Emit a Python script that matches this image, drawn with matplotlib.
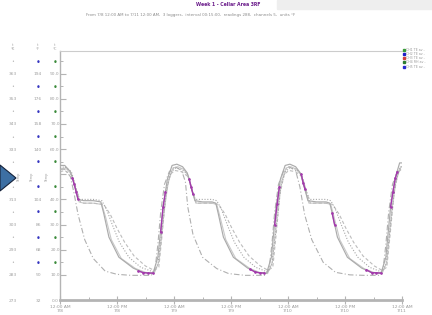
import numpy as np
import matplotlib
matplotlib.use("Agg")
import matplotlib.pyplot as plt
from matplotlib.lines import Line2D
from matplotlib.patches import Polygon, Rectangle

nan = np.nan

# hours from start, values on the primary (right-hand) scale
a_t = [0, 1, 2.2, 3, 3.8, 5, 7, 8.6, 9.2, 10.3, 12.4, 15.4, 17.5, 19.6,
       20.6, 21.7, 22.6, 23.6, 24.6, 25.8, 26.8, 27.6, 28.4, 30, 32, 32.8, 33.3, 34.4, 36.5, 39.5, 41.6, 43.5,
       44.5, 45.5, 46.4, 47.4, 48.4, 49.6, 50.6, 51.4, 52.2, 54, 56, 56.8, 57.3, 58.4, 60.5, 63.5, 65.6, 67.6,
       68.6, 69.6, 70.5, 71.5, 72]
a_y = [53.5, 53.5, 51, 46, 40, 39.5, 39.5, 39, 34.5, 25, 17, 12.7, 10.9, 10.7,
       17, 37, 48, 53.5, 54, 53, 50.5, 45, 39.5, 39, 39, 38.5, 34.5, 25, 17, 12.7, 10.9, 10.7,
       17, 37, 48, 53.5, 54, 53, 50.5, 45, 39.5, 39, 39, 38.5, 34.5, 25, 17, 12.7, 10.9, 10.7,
       17, 37, 48, 54.5, 54.5]

a2_t = [0, 1.2, 2.4, 3.2, 4, 5, 7, 8.8, 9.6, 10.8, 12.9, 15.9, 18, 19.8,
        20.8, 21.9, 22.8, 23.8, 24.8, 26, 27, 27.8, 28.6, 30, 32, 33, 33.7, 34.9, 37, 40, 42, 43.7,
        44.7, 45.7, 46.6, 47.6, 48.6, 49.8, 50.8, 51.6, 52.4, 54, 56, 57, 57.7, 58.9, 61, 64, 66, 67.8,
        68.8, 69.8, 70.7, 71.7, 72]
a2_y = [52, 52.5, 50, 45, 39, 38.5, 38.5, 38, 33, 24, 16.5, 12.5, 11, 10.5,
        15, 35, 47, 52.5, 53, 52, 49.5, 44, 38.5, 38.5, 38.5, 38, 33, 24, 16.5, 12.5, 11, 10.5,
        15, 35, 47, 52.5, 53, 52, 49.5, 44, 38.5, 38.5, 38.5, 38, 33, 24, 16.5, 12.5, 11, 10.5,
        15, 35, 47, 53, 53]

b_t = [0, 1, 2.4, 3.3, 4.1, 5, 7, 8.8, 9.8, 11, 12.5, 14.5, 17, 19.6,
       20.6, 21.6, 22.5, 23.4, 24.4, 25.6, 26.8, 27.7, 28.5, 30, 32, 33, 34, 35.2, 36.7, 38.7, 41.2, 43.6,
       44.6, 45.6, 46.5, 47.4, 48.4, 49.6, 50.8, 51.7, 52.5, 54, 56, 57, 58, 59.2, 60.7, 62.7, 65.2, 67.6,
       68.6, 69.6, 70.5, 71.4, 72]
b_y = [52.5, 53, 51, 45, 40, 40, 40, 39.5, 36, 30, 23, 17, 13, 11.2,
       14, 30, 45, 51, 52.5, 52, 50, 44, 40, 40, 40, 39.5, 36, 30, 23, 17, 13, 11.2,
       14, 30, 45, 51, 52.5, 52, 50, 44, 40, 40, 40, 39.5, 36, 30, 23, 17, 13, 11.2,
       14, 30, 45, 52, 53]

c_t = [0, 1, 2.6, 3.4, 4.3, 5, 7, 9.2, 10.6, 12, 13.6, 15.6, 18, 19.8,
       20.8, 21.5, 22.3, 23.2, 24.2, 25.6, 27, 27.9, 28.7, 30, 32, 33.4, 34.8, 36.2, 37.8, 39.8, 42.2, 43.8,
       44.8, 45.5, 46.3, 47.2, 48.2, 49.6, 51, 51.9, 52.7, 54, 56, 57.4, 58.8, 60.2, 61.8, 63.8, 66.2, 67.8,
       68.8, 69.5, 70.3, 71.2, 72]
c_y = [51, 51.5, 49.5, 44, 39, 38.5, 38.5, 38, 34, 28.5, 23, 17.5, 13.5, 11.8,
       13, 26, 42, 50, 51.5, 51, 49, 43, 38.5, 38.5, 38.5, 38, 34, 28.5, 23, 17.5, 13.5, 11.8,
       13, 26, 42, 50, 51.5, 51, 49, 43, 38.5, 38.5, 38.5, 38, 34, 28.5, 23, 17.5, 13.5, 11.8,
       13, 26, 42, 51, 52]

d_t = [0, 1, 2.2, 3, 3.8, 5.2, 7, 9.5, 12, 15, 19.2,
       20, 20.6, 21.2, 22, 23, 24.2, 25.6, 26.4, 26.9, 28, 30, 33, 35.5, 39, 43.2,
       44, 44.6, 45.2, 46, 47, 48.2, 49.6, 50.5, 51.5, 53, 55.4, 58, 61, 64, 67.2,
       68, 68.6, 69.2, 70, 71, 72]
d_y = [52, 52, 49, 42, 34, 24, 16.5, 11.5, 10.2, 9.8, 9.8,
       12, 22, 35, 46, 51, 53, 51.5, 47, 37, 26, 17, 12.5, 10.5, 9.8, 9.8,
       12, 22, 35, 46, 51, 53, 51.5, 45, 34, 24, 15, 11, 10, 9.8, 9.8,
       12, 22, 35, 46, 51, 52.5]

# purple channel only logged in short stretches
f_t = [2.6, 3.0, 3.4, 3.8, nan, 16.5, 17.5, 18.5, 19.6, nan, 21.2, 21.7, 22.2, nan,
       27.2, 27.6, 28.0, nan, 40, 41, 42, 43, nan, 45.2, 45.7, 46.2, nan,
       50.8, 51.2, 51.6, nan, 57.3, 57.8, nan, 64.5, 65.6, 66.6, 67.6, nan, 69.6, 70.1, 70.6, 71.0]
f_y = [48.5, 46, 43, 40, nan, 11.5, 10.9, 10.7, 10.7, nan, 27, 37, 43, nan,
       48, 45, 42, nan, 12.2, 11.2, 10.8, 10.7, nan, 30, 38, 45, nan,
       50, 46.5, 44, nan, 34.5, 30, nan, 12, 10.9, 10.8, 10.7, nan, 37, 43, 48.5, 51]

x_ticks = [0, 12, 24, 36, 48, 60, 72]
x_labels = ["12:00 AM\n7/8", "12:00 PM\n7/8", "12:00 AM\n7/9", "12:00 PM\n7/9",
            "12:00 AM\n7/10", "12:00 PM\n7/10", "12:00 AM\n7/11"]
y_ticks = [0, 10, 20, 30, 40, 50, 60, 70, 80, 90]
y_minor = [15, 25, 35, 45, 55, 65, 75, 85, 95]
y_labels_right = ["0.0", "10.0", "20.0", "30.0", "40.0", "", "60.0", "70.0", "80.0", "90.0"]
y_labels_mid = ["32", "50", "68", "86", "104", "", "140", "158", "176", "194"]
y_labels_left = ["273", "283", "293", "303", "313", "", "333", "343", "353", "363"]

legend_labels = ["CH1 TE av -", "CH2 TE av -", "CH3 TE av -", "CH4 RH av -", "CH5 TE av -"]
legend_colors = ["#3a9a3a", "#2020c8", "#d04040", "#2e7d32", "#2a2ad0"]

W, H = 432, 315
fig = plt.figure(figsize=(W / 100, H / 100), dpi=100)
fig.patch.set_facecolor("white")
ax = fig.add_axes([60 / W, 1 - 300 / H, 342 / W, 249 / H])

ax.plot(a2_t, a2_y, color="#cacaca", lw=0.8, zorder=2)
ax.plot(a_t, a_y, color="#ababab", lw=0.85, zorder=3)
ax.plot(b_t, b_y, color="#a8a8a8", lw=0.8, ls=(0, (1, 1.5)), zorder=3)
ax.plot(c_t, c_y, color="#bdbdbd", lw=0.8, ls=(0, (3, 2)), zorder=2)
ax.plot(d_t, d_y, color="#b0b0b0", lw=0.8, ls=(0, (5, 2, 1, 2)), zorder=2)
ax.plot(f_t, f_y, color="#a33aac", lw=1.0, marker="o", ms=0.9, zorder=4)

ax.set_xlim(0, 72)
ax.set_ylim(0, 99)
ax.set_xticks(x_ticks)
ax.set_xticklabels(x_labels)
ax.set_xticks([6, 18, 30, 42, 54, 66], minor=True)
ax.set_yticks(y_ticks)
ax.set_yticklabels(y_labels_right)
ax.set_yticks(y_minor, minor=True)
ax.set_yticklabels(["\u2022"] * len(y_minor), minor=True)

gray = "#b4b4b4"
ax.spines["right"].set_visible(False)
ax.spines["left"].set_color(gray)
ax.spines["left"].set_linewidth(1.0)
ax.spines["top"].set_color("#cccccc")
ax.spines["top"].set_linewidth(0.8)
ax.spines["bottom"].set_color(gray)
ax.spines["bottom"].set_linewidth(2.0)

ax.tick_params(axis="x", which="major", direction="inout", length=6, width=0.8, color=gray,
               labelsize=3.2, labelcolor="#999999", pad=0.5)
ax.tick_params(axis="x", which="minor", direction="in", length=2.5, width=0.7, color=gray)
ax.tick_params(axis="y", which="major", direction="in", length=4, width=0.8, color=gray,
               labelsize=3.2, labelcolor="#a0a0a0", pad=3.6)
ax.tick_params(axis="y", which="minor", direction="in", length=2, width=0.7, color=gray,
               labelsize=6, labelcolor="#3a8a3a", pad=3.6)
for lbl in ax.get_yticklabels() + ax.get_yticklabels(minor=True):
    lbl.set_ha("center")


def side_axis(offset_pt, labels, dot_color, dot_size):
    tw = ax.twinx()
    tw.set_ylim(ax.get_ylim())
    for s in tw.spines.values():
        s.set_visible(False)
    tw.spines["left"].set_position(("outward", offset_pt))
    tw.yaxis.set_ticks_position("left")
    tw.set_yticks(y_ticks)
    tw.set_yticklabels(labels)
    tw.set_yticks(y_minor, minor=True)
    tw.set_yticklabels(["\u2022"] * len(y_minor), minor=True)
    tw.tick_params(axis="y", which="major", length=0, labelsize=3.2, labelcolor="#a0a0a0", pad=0)
    tw.tick_params(axis="y", which="minor", length=0, labelsize=dot_size, labelcolor=dot_color, pad=0)
    for lbl in tw.get_yticklabels() + tw.get_yticklabels(minor=True):
        lbl.set_ha("center")
    return tw


side_axis(15.8, y_labels_mid, "#3535c0", 6)
side_axis(33.8, y_labels_left, "#b8b8b8", 3.5)

# column headers and rotated axis names
for px, head in [(13, "t\n°K"), (38, "t\n°F"), (55, "t\n°C")]:
    fig.text(px / W, 1 - 51 / H, head, ha="center", va="bottom", fontsize=2.6,
             color="#a0a0a0", linespacing=1.1)
for px, name in [(19, "Temp"), (32, "Temp"), (47, "Temp")]:
    fig.text(px / W, 1 - 177 / H, name, ha="center", va="center", rotation=90,
             fontsize=2.5, color="#a0a0a0")

fig.text(228 / W, 1 - 5 / H, "Week 1 - Cellar Area 3RF", ha="center", va="center",
         fontsize=3.3, color="#6a1b8a", fontweight="bold")
fig.text(191 / W, 1 - 15 / H,
         "From 7/8 12:00 AM to 7/11 12:00 AM,  3 loggers,  interval 00:15:00,  readings 288,  channels 5,  units °F",
         ha="center", va="center", fontsize=2.9, color="#8a8a8a")

fig.patches.append(Rectangle((277 / W, 1 - 9 / H), 155 / W, 9 / H,
                             transform=fig.transFigure, color="#eeeeee", zorder=0))
fig.patches.append(Polygon([(0, 1 - 165 / H), (16 / W, 1 - 178 / H), (0, 1 - 191 / H)],
                           closed=True, transform=fig.transFigure,
                           facecolor="#3d6fa3", edgecolor="#15223a", lw=0.8))

handles = [Line2D([], [], marker="s", ls="none", color=c, markersize=2) for c in legend_colors]
fig.legend(handles, legend_labels, loc="upper left", bbox_to_anchor=(403 / W, 1 - 48 / H),
           frameon=False, fontsize=2.3, labelcolor="#9a9a9a", handletextpad=0.2,
           labelspacing=0.05, borderpad=0, borderaxespad=0, handlelength=0.7)

fig.savefig("out.png", dpi=100)
